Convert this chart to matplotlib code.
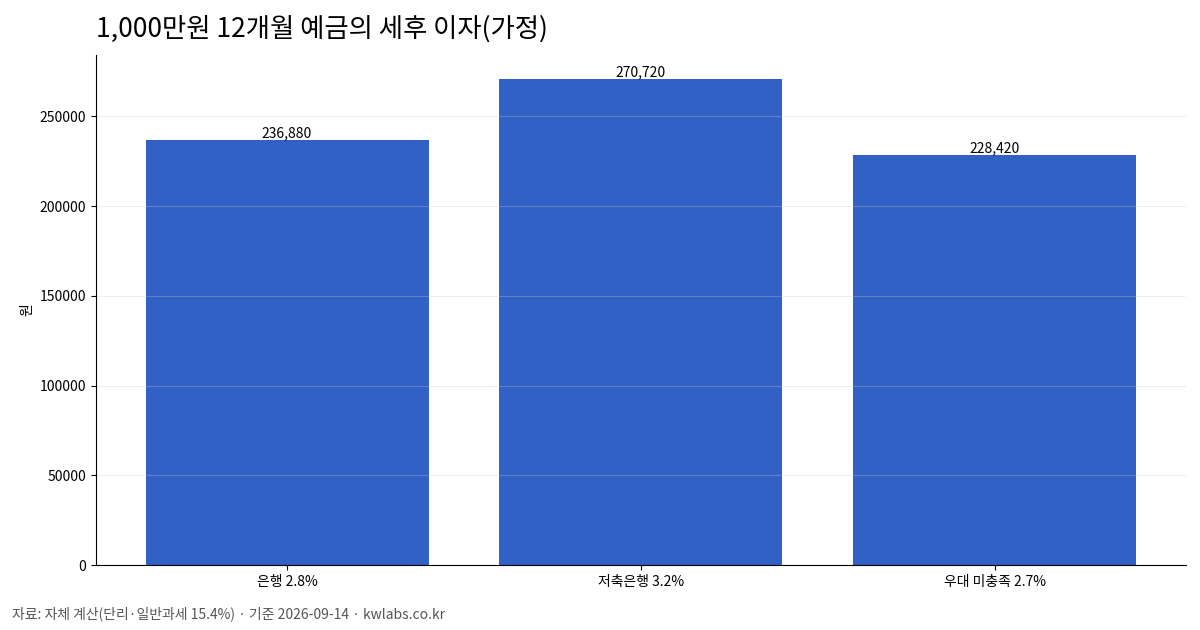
import matplotlib
matplotlib.use("Agg")
import matplotlib.pyplot as plt

plt.rcParams['font.family'] = ['Noto Sans CJK KR', 'DejaVu Sans']

# 데이터
categories = ['은행 2.8%', '저축은행 3.2%', '우대 미충족 2.7%']
interest = [236880, 270720, 228420]

fig, ax = plt.subplots(figsize=(12, 6.3), dpi=100)
fig.subplots_adjust(left=0.08, right=0.988, top=0.913, bottom=0.103)

x = range(len(categories))
bars = ax.bar(x, interest, width=0.8, color='#3161C4')
ax.set_xticks(list(x))
ax.set_xticklabels(categories, fontsize=10)

for b, v in zip(bars, interest):
    ax.text(b.get_x() + b.get_width() / 2, v, f'{v:,}', ha='center', va='bottom', fontsize=10)

ax.set_ylim(0, max(interest) * 1.05)
ax.set_ylabel('원', fontsize=10)
ax.tick_params(axis='y', labelsize=10)
ax.grid(axis='y', color='#cccccc', alpha=0.3, linewidth=0.8)
ax.spines['top'].set_visible(False)
ax.spines['right'].set_visible(False)

ax.set_title('1,000만원 12개월 예금의 세후 이자(가정)', loc='left', fontsize=19, pad=13)

fig.text(0.01, 0.018, '자료: 자체 계산(단리·일반과세 15.4%) · 기준 2026-09-14 · kwlabs.co.kr',
         fontsize=10, color='#555555')

fig.savefig('out.png', dpi=100)
